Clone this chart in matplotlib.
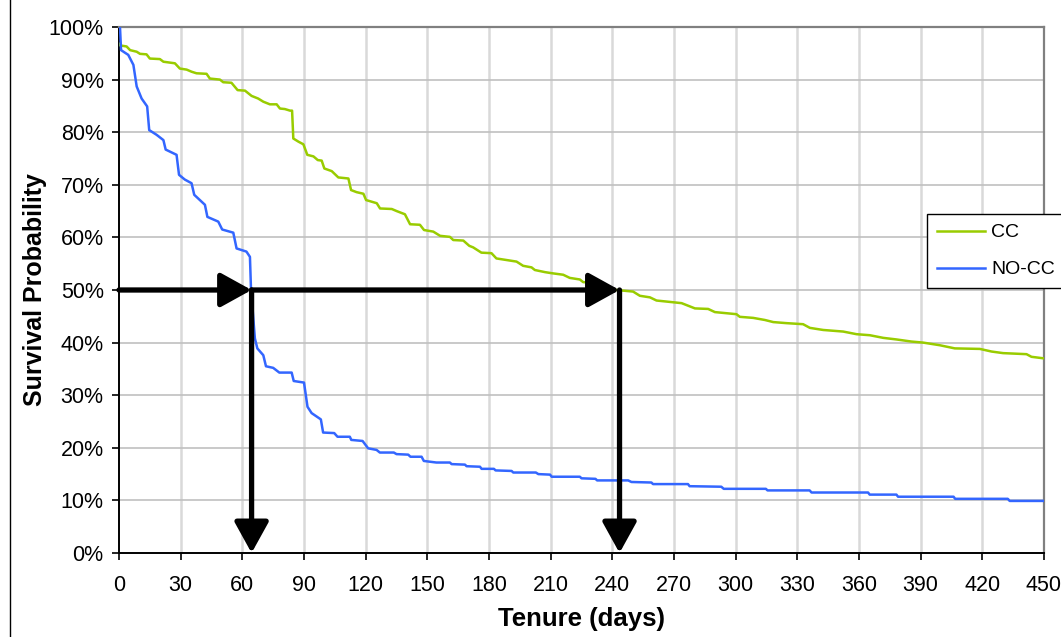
import numpy as np
import matplotlib
matplotlib.use("Agg")
from matplotlib import pyplot as plt
from matplotlib.ticker import PercentFormatter

plt.rcParams['font.family'] = ['Liberation Sans', 'DejaVu Sans']

# survival curves (day, survival %)
cc_days = [0, 0.5, 3.7, 5.4, 8.6, 10.2, 13.4, 15, 19.9, 21.6, 27.2, 29.6, 32.9, 35.3, 37.7,
           42.6, 44.2, 49.1, 50.7, 54.7, 57.7, 61.3, 64.5, 67.7, 70.2, 73.4, 76.7, 78.3,
           80.7, 83.2, 84.2, 84.8, 87.3, 89.7, 91.6, 94.6, 96.7, 98.6, 99.9, 103.5, 106.7,
           111.6, 112.9, 115.6, 118.9, 120.2, 125.4, 127, 132.7, 135.1, 139.1, 141.6, 146.4,
           148.4, 152.9, 156.2, 161, 162.6, 167.5, 170.4, 172.3, 176.3, 181.2, 183.6, 188.5,
           193.4, 196.6, 200.7, 202.3, 207.2, 210.4, 216.1, 219.3, 224.2, 225.8, 229.9,
           232.3, 237.2, 242, 250.1, 253.4, 258.3, 261.5, 266.4, 273.7, 280.2, 286.6, 289.9,
           300.4, 302, 308.5, 314.2, 318.3, 324.7, 332.8, 336.1, 342.6, 352.3, 358.8, 365.3,
           371.8, 378.2, 385.5, 391.2, 399.3, 406.6, 418.8, 424.5, 430.1, 441.5, 443.9, 450]
cc_surv = [96.8, 96.5, 96.3, 95.6, 95.3, 94.9, 94.8, 94.0, 93.9, 93.4, 93.1, 92.1, 91.9, 91.5,
           91.2, 91.1, 90.2, 90.0, 89.5, 89.4, 88.0, 87.9, 86.9, 86.4, 85.8, 85.3, 85.3, 84.5,
           84.4, 84.1, 84.1, 78.8, 78.2, 77.7, 75.7, 75.4, 74.7, 74.6, 73.1, 72.6, 71.4,
           71.2, 69.0, 68.6, 68.3, 67.1, 66.5, 65.5, 65.4, 65.0, 64.4, 62.5, 62.4,
           61.4, 61.1, 60.3, 60.1, 59.5, 59.4, 58.4, 58.1, 57.1, 57.0, 56.0, 55.7,
           55.4, 54.6, 54.3, 53.8, 53.4, 53.2, 52.9, 52.3, 52.0, 51.5, 51.4,
           50.6, 50.5, 50.0, 49.7, 48.9, 48.6, 48.0, 47.8, 47.5, 46.5, 46.4, 45.8,
           45.4, 44.9, 44.7, 44.3, 43.9, 43.7, 43.5, 42.8, 42.4, 42.1, 41.6, 41.4,
           40.9, 40.6, 40.2, 40.0, 39.5, 38.9, 38.8, 38.3, 38.0, 37.8, 37.3, 37.0]

nocc_days = [0, 0.5, 1, 4.5, 7, 8.6, 11, 13.7, 14.7, 18.3, 21.6, 22.7, 28, 29.2, 32, 35.3,
             36.6, 41.8, 43, 48.3, 50.2, 55.6, 57.2, 62, 63.7, 64.2, 66.1, 67.3, 70.2, 71.5,
             75, 78, 84, 85, 90, 91.7, 93.7, 98.2, 99.3, 104.7, 106.3, 112.3, 113, 118.5,
             121.2, 125.3, 126.9, 133.7, 135, 140.7, 141.8, 147.2, 148.3, 154.4, 161, 161.8,
             168.3, 169.1, 175.6, 176.4, 182.4, 183.2, 191, 191.8, 202.8, 204, 209.7, 210.5,
             224.2, 225, 231.8, 232.6, 247.7, 249.3, 259, 259.8, 276.8, 277.6, 293, 294.2,
             314.7, 315.5, 336, 336.9, 364.4, 365.2, 378.2, 379, 406, 406.8, 432.4, 433.3, 450]
nocc_surv = [100, 99.8, 95.6, 94.7, 92.8, 88.7, 86.4, 84.9, 80.4, 79.5, 78.5, 76.7, 75.7, 71.9,
             71.0, 70.3, 68.1, 66.2, 63.9, 63.0, 61.5, 60.9, 57.9, 57.3, 56.3, 50.3, 40.8,
             38.9, 37.6, 35.5, 35.2, 34.3, 34.3, 32.7, 32.4, 27.8, 26.6, 25.4, 22.9, 22.8,
             22.1, 22.1, 21.5, 21.3, 19.9, 19.6, 19.1, 19.1, 18.8, 18.7, 18.3, 18.3, 17.5,
             17.2, 17.2, 16.9, 16.8, 16.5, 16.4, 16.0, 16.0, 15.7, 15.6, 15.3, 15.3, 15.0,
             14.9, 14.5, 14.5, 14.2, 14.1, 13.8, 13.8, 13.5, 13.4, 13.1, 13.1, 12.7, 12.6,
             12.2, 12.2, 11.9, 11.9, 11.5, 11.5, 11.1, 11.1, 10.7, 10.7, 10.3, 10.3, 9.9, 9.9]

median_cc = 243.5
median_nocc = 64.5

fig = plt.figure(figsize=(10.61, 6.37), dpi=100)
ax = fig.add_axes([119/1061, 1-553/637, (1044-119)/1061, (553-27)/637])

ax.plot(cc_days, cc_surv, color='#99cc00', lw=1.8, label='CC', zorder=3)
ax.plot(nocc_days, nocc_surv, color='#3366ff', lw=1.8, label='NO-CC', zorder=3)

# median arrows
astyle = dict(arrowstyle='-|>,head_length=19,head_width=10.5', mutation_scale=1,
              color='black', lw=3.8, shrinkA=0, shrinkB=0)
ax.annotate('', xy=(median_nocc, 50), xytext=(0, 50), arrowprops=astyle, zorder=4)
ax.annotate('', xy=(median_cc, 50), xytext=(median_nocc, 50), arrowprops=astyle, zorder=4)
ax.annotate('', xy=(median_nocc, 0), xytext=(median_nocc, 50), arrowprops=astyle, zorder=4)
ax.annotate('', xy=(median_cc, 0), xytext=(median_cc, 50), arrowprops=astyle, zorder=4)

ax.set_xlim(0, 450)
ax.set_ylim(0, 100)
ax.set_xticks(np.arange(0, 451, 30))
ax.set_yticks(np.arange(0, 101, 10))
ax.yaxis.set_major_formatter(PercentFormatter(decimals=0))
ax.tick_params(labelsize=15.5, direction='out', length=5, width=1.2, color='black')
ax.tick_params(axis='x', pad=11)
ax.tick_params(axis='y', pad=6)

for x in np.arange(30, 450, 30):
    ax.axvline(x, color='#d9d9d9', lw=1.8, zorder=1)
for y in np.arange(10, 100, 10):
    ax.axhline(y, color='#c0c0c0', lw=1.2, zorder=1)

ax.spines['left'].set_color('black')
ax.spines['bottom'].set_color('black')
ax.spines['left'].set_linewidth(1.4)
ax.spines['bottom'].set_linewidth(1.4)
ax.spines['top'].set_color('#808080')
ax.spines['right'].set_color('#808080')
ax.spines['top'].set_linewidth(1.6)
ax.spines['right'].set_linewidth(1.6)

ax.set_xlabel('Tenure (days)', fontsize=18.5, fontweight='bold', labelpad=8)
ax.set_ylabel('Survival Probability', fontsize=18, fontweight='bold', labelpad=1)

leg = ax.legend(loc='upper left', bbox_to_anchor=(927/1061, 1-214/637),
                bbox_transform=fig.transFigure, fontsize=14, frameon=True, fancybox=False,
                edgecolor='black', borderaxespad=0, handlelength=2.5, handletextpad=0.3,
                labelspacing=1.0, borderpad=0.5)
leg.get_frame().set_linewidth(1.0)
leg.get_frame().set_alpha(1)

# chart area border on the left
fig.add_artist(plt.Line2D([10/1061, 10/1061], [0, 1], transform=fig.transFigure,
                          color='black', lw=1.0))

fig.savefig('out.png', dpi=100)
